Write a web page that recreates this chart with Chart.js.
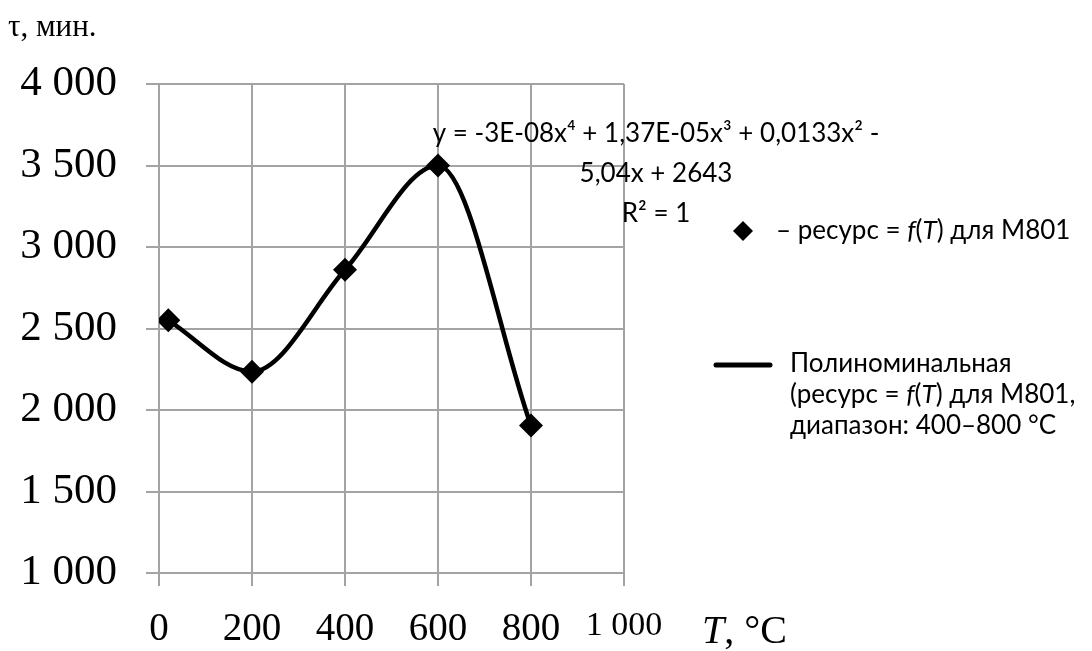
<!DOCTYPE html>
<html lang="ru">
<head>
<meta charset="utf-8">
<script src="https://cdn.jsdelivr.net/npm/chart.js@4.4.0/dist/chart.umd.min.js"></script>
<style>
    html, body { margin: 0; padding: 0; background: #fff; }
</style>
</head>
<body>
<canvas id="grafica" width="1092" height="651"></canvas>
<script>
// --- Datos del gráfico ---
const temperaturas = [20, 200, 400, 600, 800];          // T, °C
const recursos = [2550, 2235, 2860, 3500, 1905];        // τ, мин.
const ticksX = [0, 200, 400, 600, 800, 1000];
const ticksY = [1000, 1500, 2000, 2500, 3000, 3500, 4000];
const ecuacion = ['y = -3E-08x⁴ + 1,37E-05x³ + 0,0133x² -', '5,04x + 2643', 'R² = 1'];
const leyendaPuntos = [['– ресурс = ', false], ['f', true], ['(', false], ['T', true], [') для М801', false]];
const leyendaLinea = [
    [['Полиноминальная', false]],
    [['(ресурс = ', false], ['f', true], ['(', false], ['T', true], [') для М801,', false]],
    [['диапазон: 400–800 °C', false]]
];

const puntos = temperaturas.map((t, i) => ({ x: t, y: recursos[i] }));
const formato = v => String(v).replace(/\B(?=(\d{3})+(?!\d))/g, ' ');
const SERIF = "'Liberation Serif', 'Times New Roman', serif";
const SANS = "Lato, 'Open Sans', sans-serif";
const GRIS = '#a3a3a3';

// texto con partes en cursiva
function textoRico(ctx, partes, x, y, size) {
    let cx = x;
    partes.forEach(([t, cursiva]) => {
        ctx.font = (cursiva ? 'italic ' : '') + size + 'px ' + SANS;
        ctx.fillText(t, cx, y);
        cx += ctx.measureText(t).width;
    });
}

const textos = {
    id: 'textos',
    afterDraw(chart) {
        const ctx = chart.ctx;
        ctx.save();
        ctx.fillStyle = '#000';

        // título del eje Y
        ctx.textBaseline = 'middle';
        ctx.textAlign = 'left';
        ctx.font = '31px ' + SERIF;
        ctx.fillText('τ, мин.', 8, 28);

        // título del eje X
        ctx.font = 'italic 40px ' + SERIF;
        ctx.fillText('T', 702, 632);
        const wT = ctx.measureText('T').width;
        ctx.font = '40px ' + SERIF;
        ctx.fillText(', °C', 702 + wT, 632);

        // ecuación de la tendencia
        ctx.textAlign = 'center';
        ctx.textBaseline = 'alphabetic';
        ctx.font = '26px ' + SANS;
        ecuacion.forEach((l, i) => ctx.fillText(l, 656, 142 + i * 40));

        // leyenda: marcador rombo
        ctx.beginPath();
        ctx.moveTo(743 - 10, 231);
        ctx.lineTo(743, 231 - 10);
        ctx.lineTo(743 + 10, 231);
        ctx.lineTo(743, 231 + 10);
        ctx.closePath();
        ctx.fill();
        ctx.textAlign = 'left';
        ctx.textBaseline = 'middle';
        textoRico(ctx, leyendaPuntos, 776, 231, 26);

        // leyenda: línea polinomial
        ctx.strokeStyle = '#000';
        ctx.lineWidth = 5;
        ctx.lineCap = 'round';
        ctx.beginPath();
        ctx.moveTo(716, 365);
        ctx.lineTo(770, 365);
        ctx.stroke();
        leyendaLinea.forEach((linea, i) => textoRico(ctx, linea, 790, 364 + i * 31, 26));

        ctx.restore();
    }
};

new Chart(document.getElementById('grafica'), {
    type: 'scatter',
    data: {
        datasets: [
            {
                label: 'ресурс = f(T) для М801',
                data: puntos,
                pointStyle: 'rectRot',
                pointRadius: 12,
                pointHoverRadius: 12,
                backgroundColor: '#000',
                borderColor: '#000',
                pointBorderWidth: 0,
                order: 1
            },
            {
                type: 'line',
                label: 'Полиноминальная',
                data: puntos,
                showLine: true,
                borderColor: '#000',
                borderWidth: 4.5,
                pointRadius: 0,
                cubicInterpolationMode: 'monotone',
                fill: false,
                order: 2
            }
        ]
    },
    options: {
        responsive: false,
        animation: false,
        events: [],
        layout: { padding: { top: 84, right: 468, bottom: 0, left: 0 } },
        plugins: { legend: { display: false }, tooltip: { enabled: false } },
        scales: {
            x: {
                type: 'linear',
                min: 0,
                max: 1000,
                afterBuildTicks: s => { s.ticks = ticksX.map(v => ({ value: v })); },
                afterFit: s => { s.height = 651 - 573; },
                grid: { color: GRIS, lineWidth: 2, tickLength: 13, tickColor: GRIS },
                border: { color: GRIS, width: 2 },
                ticks: {
                    color: '#000',
                    padding: 20,
                    maxRotation: 0,
                    callback: formato,
                    font: ctx => ({ family: SERIF, size: ctx.tick && ctx.tick.value === 1000 ? 34 : 39 })
                }
            },
            y: {
                type: 'linear',
                min: 1000,
                max: 4000,
                afterBuildTicks: s => { s.ticks = ticksY.map(v => ({ value: v })); },
                afterFit: s => { s.width = 159; },
                grid: { color: GRIS, lineWidth: 2, tickLength: 13, tickColor: GRIS },
                border: { color: GRIS, width: 2 },
                ticks: {
                    color: '#000',
                    padding: 29,
                    callback: formato,
                    font: { family: SERIF, size: 43 }
                }
            }
        }
    },
    plugins: [textos]
});
</script>
</body>
</html>
